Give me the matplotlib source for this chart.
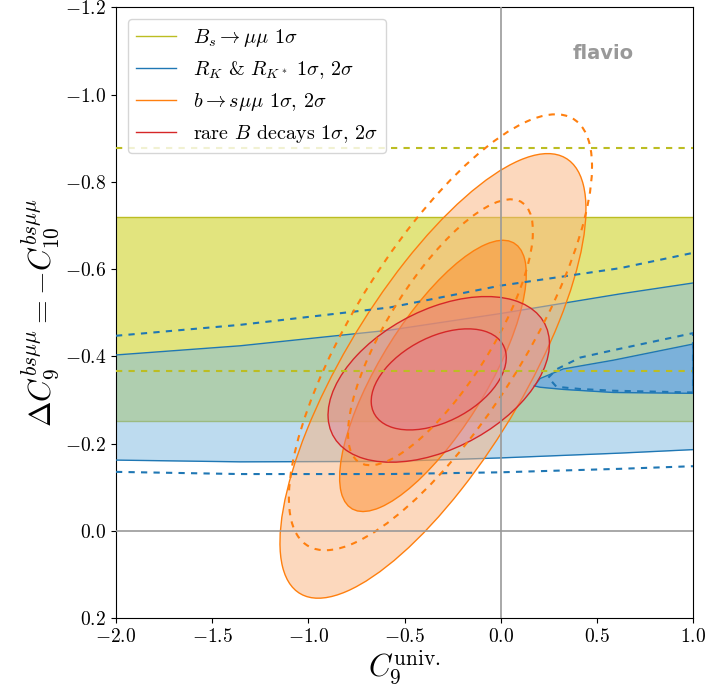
import numpy as np
import matplotlib
matplotlib.use('Agg')
import matplotlib.pyplot as plt
from matplotlib.patches import Ellipse
from matplotlib.lines import Line2D

plt.rcParams['font.family'] = 'serif'
plt.rcParams['font.serif'] = ['cmr10']
plt.rcParams['mathtext.fontset'] = 'cm'
plt.rcParams['axes.formatter.use_mathtext'] = True

# Bs -> mumu: 1 sigma band and dashed lines (C9 = -C10 values)
bs_band = [-0.251, -0.720]
bs_dashed = [-0.877, -0.367]

# R_K & R_K*: 2 sigma band edges read along C9 univ.
rk_x = [-2.0, -1.355, -0.575, 0.0, 0.621, 1.0]
rk_upper = [-0.403, -0.424, -0.460, -0.498, -0.543, -0.568]
rk_lower = [-0.162, -0.158, -0.159, -0.167, -0.178, -0.186]
rk_upper_dashed = [-0.447, -0.472, -0.512, -0.562, -0.602, -0.637]
rk_lower_dashed = [-0.135, -0.130, -0.130, -0.134, -0.142, -0.148]

# R_K & R_K*: 1 sigma tongue on the right
tongue_x = [0.175, 0.205, 0.326, 0.586, 1.0]
tongue_upper = [-0.332, -0.349, -0.371, -0.391, -0.428]
tongue_lower = [-0.332, -0.329, -0.324, -0.317, -0.315]
tongue_x_dashed = [0.248, 0.290, 0.413, 0.586, 1.0]
tongue_upper_dashed = [-0.351, -0.370, -0.397, -0.414, -0.453]
tongue_lower_dashed = [-0.351, -0.330, -0.325, -0.321, -0.317]

# gaussian fits: centre, (sigma_x, sigma_y), correlation
bsmm_center, bsmm_sig, bsmm_rho = (-0.352, -0.355), (0.320, 0.205), -0.75
bsmm_old_center, bsmm_old_sig, bsmm_old_rho = (-0.313, -0.455), (0.317, 0.201), -0.76
rare_center, rare_sig, rare_rho = (-0.322, -0.347), (0.2315, 0.0764), -0.43

levels = [2.30, 6.18]  # delta chi2 for 1 sigma, 2 sigma

olive = '#bcbd22'
blue = '#1f77b4'
orange = '#ff7f0e'
red = '#d62728'


def ellipse(center, sig, rho, dchi2, **kw):
    c = rho * sig[0] * sig[1]
    cov = np.array([[sig[0]**2, c], [c, sig[1]**2]]) * dchi2
    vals, vecs = np.linalg.eigh(cov)
    ang = np.degrees(np.arctan2(vecs[1, 1], vecs[0, 1]))
    return Ellipse(center, 2*np.sqrt(vals[1]), 2*np.sqrt(vals[0]), angle=ang, **kw)


fig = plt.figure(figsize=(7.09, 6.88), dpi=100)
ax = fig.add_axes([116/709, 1-618/688, 577/709, 610.7/688])

# Bs -> mumu
ax.axhspan(bs_band[1], bs_band[0], color='#e2e47e', lw=0, zorder=1)
for y in bs_band:
    ax.axhline(y, color=olive, lw=1.0, zorder=2)
for y in bs_dashed:
    ax.axhline(y, color=olive, lw=1.5, ls=(0, (3, 3)), zorder=6)

# R_K & R_K*
ax.fill_between(rk_x, rk_lower, rk_upper, color='#7db9e1', alpha=0.5, lw=0, zorder=2)
ax.plot(rk_x, rk_upper, color=blue, lw=1.0, zorder=3)
ax.plot(rk_x, rk_lower, color=blue, lw=1.0, zorder=3)
ax.fill_between(tongue_x, tongue_lower, tongue_upper, color='#6eaae6', alpha=0.8, lw=0, zorder=2)
ax.plot(tongue_x + tongue_x[::-1], tongue_upper + tongue_lower[::-1], color=blue, lw=1.0, zorder=3)
ax.plot(rk_x, rk_upper_dashed, color=blue, lw=1.5, ls=(0, (3, 3)), zorder=6)
ax.plot(rk_x, rk_lower_dashed, color=blue, lw=1.5, ls=(0, (3, 3)), zorder=6)
ax.plot(tongue_x_dashed + tongue_x_dashed[::-1], tongue_upper_dashed + tongue_lower_dashed[::-1],
        color=blue, lw=1.5, ls=(0, (3, 3)), zorder=6)

# b -> s mu mu
ax.add_patch(ellipse(bsmm_center, bsmm_sig, bsmm_rho, levels[1], facecolor='#fbb37d', alpha=0.5, lw=0, zorder=3))
ax.add_patch(ellipse(bsmm_center, bsmm_sig, bsmm_rho, levels[0], facecolor='#fd8f32', alpha=0.5, lw=0, zorder=3))
for lev in levels:
    ax.add_patch(ellipse(bsmm_center, bsmm_sig, bsmm_rho, lev, fill=False, edgecolor=orange, lw=1.0, zorder=4))
    ax.add_patch(ellipse(bsmm_old_center, bsmm_old_sig, bsmm_old_rho, lev, fill=False,
                         edgecolor=orange, lw=1.5, ls=(0, (3, 3)), zorder=6))

# rare B decays
for lev in levels[::-1]:
    ax.add_patch(ellipse(rare_center, rare_sig, rare_rho, lev, facecolor='#e27a96', alpha=0.4, lw=0, zorder=4))
for lev in levels:
    ax.add_patch(ellipse(rare_center, rare_sig, rare_rho, lev, fill=False, edgecolor=red, lw=1.0, zorder=5))

ax.axvline(0, color='0.6', lw=1.2, zorder=7)
ax.axhline(0, color='0.6', lw=1.2, zorder=7)

ax.set_xlim(-2, 1)
ax.set_ylim(0.2, -1.2)
ax.set_xticks(np.arange(-2, 1.01, 0.5))
ax.set_yticks(np.arange(0.2, -1.21, -0.2))
ax.tick_params(labelsize=14)
ax.set_xlabel(r'$C_9^{\mathrm{univ.}}$', fontsize=22, labelpad=2)
ax.set_ylabel(r'$\Delta C_9^{bs\mu\mu} = -C_{10}^{bs\mu\mu}$', fontsize=22, labelpad=2)

ax.text(0.844, 0.925, 'flavio', transform=ax.transAxes, family=['DejaVu Sans'],
        fontsize=14, weight='bold', color='0.6', ha='center', va='center')

handles = [Line2D([], [], color=c, lw=1.0) for c in (olive, blue, orange, red)]
labels = [r'$B_s\to\mu\mu$ $1\sigma$',
          r'$R_K$ & $R_{K^*}$ $1\sigma$, $2\sigma$',
          r'$b\to s\mu\mu$ $1\sigma$, $2\sigma$',
          r'rare $B$ decays $1\sigma$, $2\sigma$']
leg = ax.legend(handles, labels, loc='upper left', fontsize=14.5, borderaxespad=0.6)
leg.set_zorder(10)

fig.savefig('out.png', dpi=100)
